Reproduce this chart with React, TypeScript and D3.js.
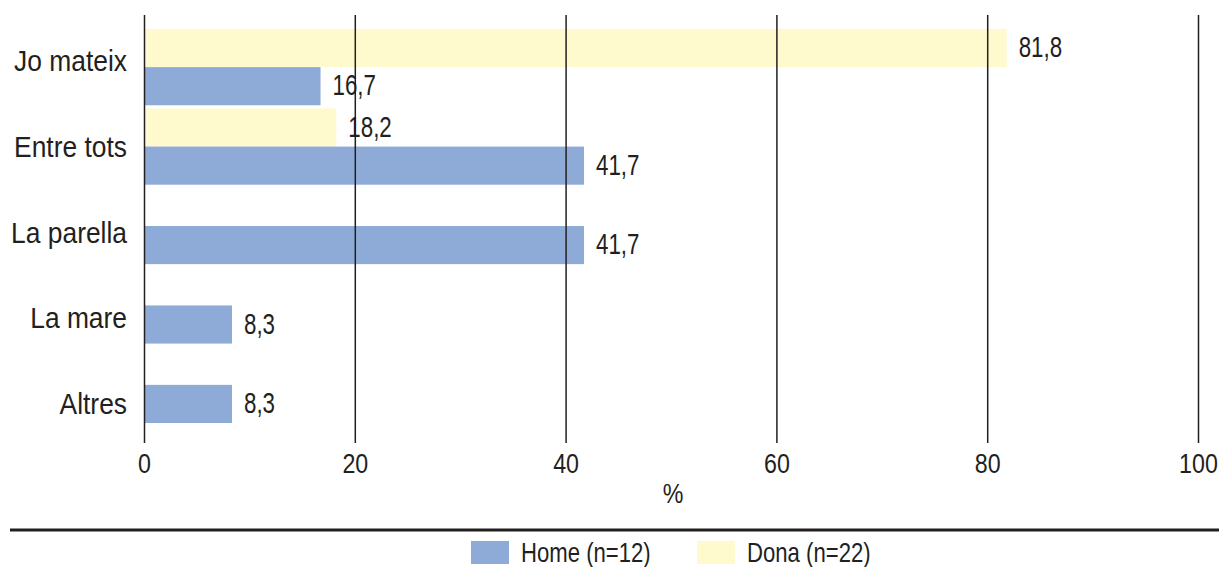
import React from "react";
import * as d3 from "d3";

const categories = ["Jo mateix", "Entre tots", "La parella", "La mare", "Altres"];
const homeValues = [16.7, 41.7, 41.7, 8.3, 8.3];
const donaValues = [81.8, 18.2, 0, 0, 0];
const xTicks = [0, 20, 40, 60, 80, 100];
const seriesNames = ["Home (n=12)", "Dona (n=22)"];
const axisTitle = "%";

const W = 1221;
const H = 567;
const FONT = "'Liberation Sans', Arial, sans-serif";
const TEXT = "#231f20";
const BLUE = "#8eaad6";
const YELLOW = "#fffacd";

const fmt = (v: number) => d3.format(".1f")(v).replace(".", ",");

function T(props: { x: number; y: number; size: number; sx: number; anchor?: string; children: React.ReactNode }) {
  return (
    <text
      transform={`translate(${props.x},${props.y}) scale(${props.sx},1)`}
      textAnchor={props.anchor || "start"}
      fontSize={props.size}
      fill={TEXT}
    >
      {props.children}
    </text>
  );
}

export default function App() {
  const x = d3.scaleLinear().domain([0, 100]).range([144.5, 1198.5]);
  const plotTop = 15;
  const plotBottom = 443;
  const yGroup = d3.scaleBand<string>().domain(categories).range([29, 423]).paddingInner(0.04).paddingOuter(0);
  const ySub = d3.scaleBand<string>().domain(["dona", "home"]).range([0, yGroup.bandwidth()]);
  const yLabel = d3.scaleBand<string>().domain(categories).range([18, 447]);

  const series = [
    { key: "dona", values: donaValues, color: YELLOW },
    { key: "home", values: homeValues, color: BLUE },
  ];

  return (
    <svg width={W} height={H} style={{ position: "absolute", left: 0, top: 0, background: "#fff" }} fontFamily={FONT}>
      {series.map((s) =>
        s.values.map((v, i) =>
          v > 0 ? (
            <rect
              key={s.key + i}
              x={x(0)}
              y={(yGroup(categories[i]) as number) + (ySub(s.key) as number)}
              width={x(v) - x(0)}
              height={ySub.bandwidth()}
              fill={s.color}
            />
          ) : null
        )
      )}
      {xTicks.map((t) => (
        <line key={"g" + t} x1={x(t)} x2={x(t)} y1={plotTop} y2={plotBottom} stroke={TEXT} strokeWidth={1.5} />
      ))}
      {xTicks.map((t) => (
        <T key={"t" + t} x={x(t)} y={473} size={28} sx={0.83} anchor="middle">
          {t}
        </T>
      ))}
      <T x={673} y={503} size={28} sx={0.83} anchor="middle">
        {axisTitle}
      </T>
      {categories.map((c) => (
        <T key={"c" + c} x={127} y={(yLabel(c) as number) + yLabel.bandwidth() / 2 + 10} size={29} sx={0.91} anchor="end">
          {c}
        </T>
      ))}
      {series.map((s) =>
        s.values.map((v, i) =>
          v > 0 ? (
            <T
              key={"v" + s.key + i}
              x={x(v) + 12}
              y={(yGroup(categories[i]) as number) + (ySub(s.key) as number) + ySub.bandwidth() / 2 + 9}
              size={29}
              sx={0.77}
            >
              {fmt(v)}
            </T>
          ) : null
        )
      )}
      <line x1={10} x2={1219} y1={530} y2={530} stroke={TEXT} strokeWidth={3} />
      <rect x={471} y={541} width={38} height={23} fill={BLUE} />
      <T x={521} y={562} size={27} sx={0.82}>
        {seriesNames[0]}
      </T>
      <rect x={697} y={541} width={38} height={23} fill={YELLOW} />
      <T x={747} y={562} size={27} sx={0.82}>
        {seriesNames[1]}
      </T>
    </svg>
  );
}
